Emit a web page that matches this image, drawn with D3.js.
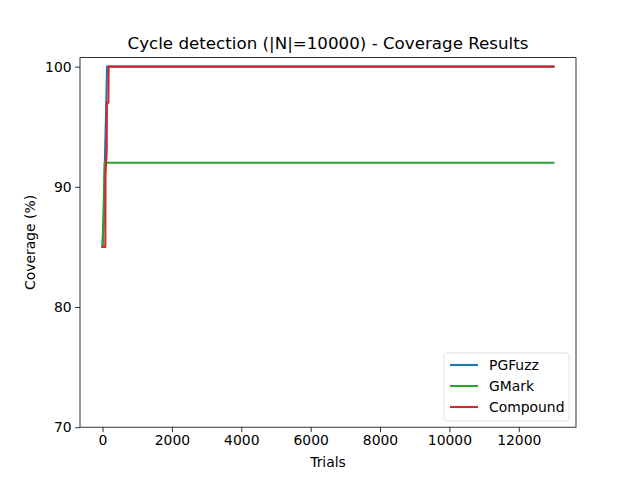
<!DOCTYPE html>
<html>
<head>
<meta charset="utf-8">
<script src="https://cdn.jsdelivr.net/npm/d3@7"></script>
<style>
  body { margin: 0; background: #fff; }
  text { font-family: "DejaVu Sans", sans-serif; fill: #000; }
</style>
</head>
<body>
<div id="container"></div>
<script>
const seriesNames = ["PGFuzz", "GMark", "Compound"];
const seriesColors = ["#1f77b4", "#2ca02c", "#d62728"];

// [trials, coverage %]
const pgfuzz = [[0, 85], [40, 88], [60, 90], [70, 92.5], [100, 96], [130, 100], [13000, 100]];
const gmark = [[0, 85], [30, 88], [60, 92], [13000, 92]];
const compound = [[0, 85], [80, 85], [85, 91], [120, 93], [125, 97], [170, 97], [175, 100], [13000, 100]];

const xTicks = [0, 2000, 4000, 6000, 8000, 10000, 12000];
const yTicks = [70, 80, 90, 100];

const W = 640, H = 480;
const margin = {left: 80, right: 64, top: 57.6, bottom: 52.8};

const svg = d3.select('#container')
    .append('svg')
        .attr('width', W)
        .attr('height', H);

var x = d3.scaleLinear()
    .domain([-650, 13650])
    .range([margin.left, W - margin.right]);

var y = d3.scaleLinear()
    .domain([70, 100.75])
    .range([H - margin.bottom, margin.top]);

const plot = svg.append("g");

// lines
const allSeries = [pgfuzz, gmark, compound];
var line = d3.line()
    .x(d => x(d[0]))
    .y(d => y(d[1]));

plot.selectAll("path.series")
    .data(allSeries)
    .enter()
    .append("path")
        .attr("class", "series")
        .attr("d", line)
        .attr("fill", "none")
        .attr("stroke", (d, i) => seriesColors[i])
        .attr("stroke-width", 2.1)
        .attr("stroke-linejoin", "round")
        .attr("stroke-linecap", "square");

// axes
const xAxis = svg.append("g")
    .attr("transform", `translate(0,${H - margin.bottom})`)
    .call(d3.axisBottom(x).tickValues(xTicks).tickSize(4.9).tickPadding(3.5).tickFormat(d3.format("d")));

const yAxis = svg.append("g")
    .attr("transform", `translate(${margin.left},0)`)
    .call(d3.axisLeft(y).tickValues(yTicks).tickSize(4.9).tickPadding(3.5));

[xAxis, yAxis].forEach(a => {
    a.select(".domain").remove();
    a.selectAll(".tick line").attr("stroke", "#000").attr("stroke-width", 0.8);
    a.selectAll(".tick text")
        .attr("font-size", "13.9px")
        .attr("font-family", "DejaVu Sans");
});

// frame
svg.append("rect")
    .attr("x", margin.left)
    .attr("y", margin.top)
    .attr("width", W - margin.left - margin.right)
    .attr("height", H - margin.top - margin.bottom)
    .attr("fill", "none")
    .attr("stroke", "#000")
    .attr("stroke-width", 0.8);

// labels
svg.append("text")
    .attr("x", (margin.left + W - margin.right) / 2)
    .attr("y", 49)
    .attr("text-anchor", "middle")
    .attr("font-size", "16.7px")
    .text("Cycle detection (|N|=10000) - Coverage Results");

svg.append("text")
    .attr("x", (margin.left + W - margin.right) / 2)
    .attr("y", 467)
    .attr("text-anchor", "middle")
    .attr("font-size", "13.9px")
    .text("Trials");

svg.append("text")
    .attr("transform", `translate(35,${(margin.top + H - margin.bottom) / 2}) rotate(-90)`)
    .attr("text-anchor", "middle")
    .attr("font-size", "13.9px")
    .text("Coverage (%)");

// legend
const legend = svg.append("g").attr("transform", "translate(444,353)");

legend.append("rect")
    .attr("width", 125)
    .attr("height", 68)
    .attr("rx", 3)
    .attr("fill", "#fff")
    .attr("fill-opacity", 0.8)
    .attr("stroke", "#d9d9d9")
    .attr("stroke-width", 0.8);

seriesNames.forEach((name, i) => {
    const ly = 12 + i * 21;
    legend.append("line")
        .attr("x1", 6).attr("x2", 34)
        .attr("y1", ly).attr("y2", ly)
        .attr("stroke", seriesColors[i])
        .attr("stroke-width", 2.1);
    legend.append("text")
        .attr("x", 45)
        .attr("y", ly)
        .attr("dy", "0.35em")
        .attr("font-size", "13.9px")
        .text(name);
});
</script>
</body>
</html>
